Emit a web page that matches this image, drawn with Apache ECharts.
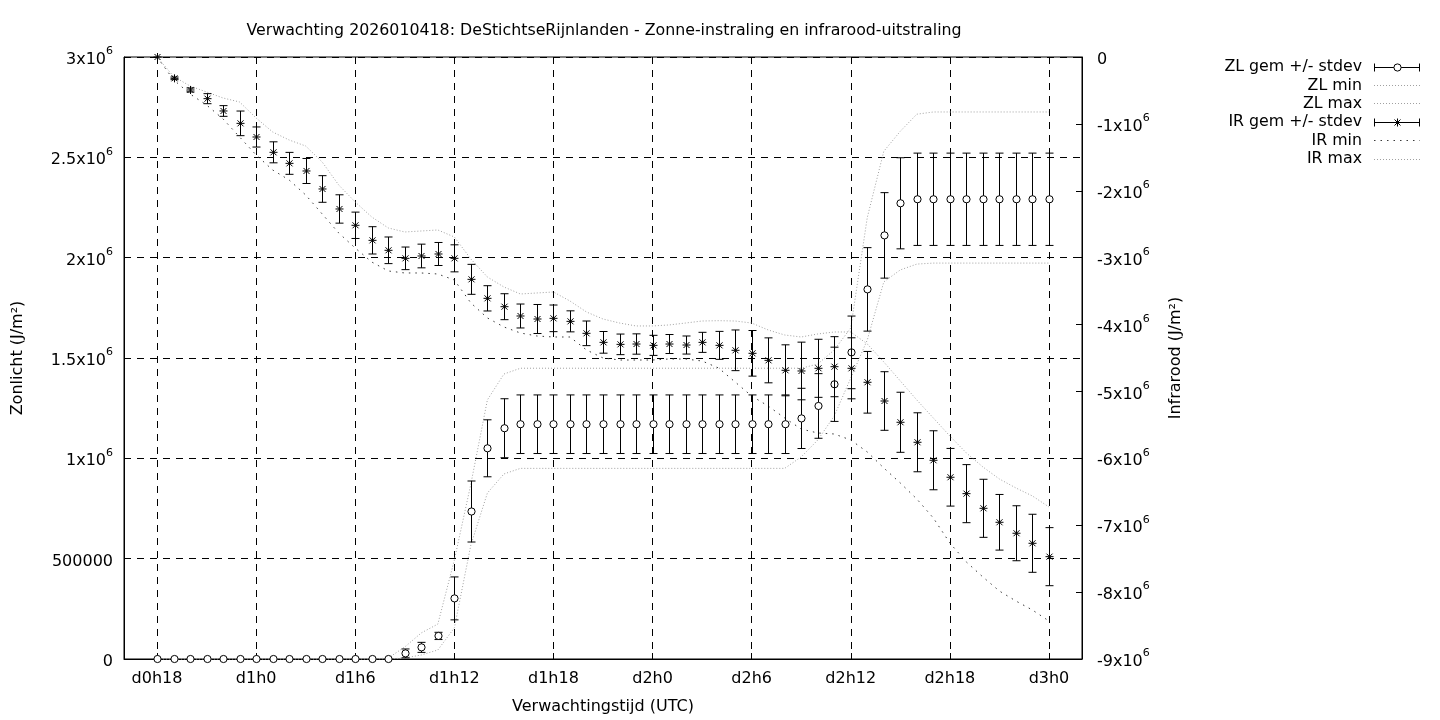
<!DOCTYPE html>
<html><head><meta charset="utf-8">
<script src="https://cdn.jsdelivr.net/npm/echarts@6/dist/echarts.min.js"></script>
<style>html,body{margin:0;padding:0;background:#fff}#c{width:1440px;height:720px}</style>
</head><body><div id="c"></div><script>
// forecast hour since d0h0
const hours = [18,19,20,21,22,23,24,25,26,27,28,29,30,31,32,33,34,35,36,37,38,39,40,41,42,43,44,45,46,47,48,49,50,51,52,53,54,55,56,57,58,59,60,61,62,63,64,65,66,67,68,69,70,71,72];
const xTicks = [18,24,30,36,42,48,54,60,66,72];

const zlMean = [0,0,0,0,0,0,0,0,0,0,0,0,0,0,0,
  28000,58000,115000,302000,735000,1050000,1150000,
  1170000,1170000,1170000,1170000,1170000,1170000,1170000,1170000,1170000,1170000,1170000,1170000,1170000,1170000,1170000,1170000,1170000,
  1199000,1261000,1369000,1528000,1842000,2111000,2271000,
  2291000,2291000,2291000,2291000,2291000,2291000,2291000,2291000,2291000];
const zlStd = [0,0,0,0,0,0,0,0,0,0,0,0,0,0,0,
  22000,25000,18000,107000,152000,142000,147000,
  146000,146000,146000,146000,146000,146000,146000,146000,146000,146000,146000,146000,146000,146000,146000,146000,146000,
  150000,161000,185000,181000,208000,213000,227000,
  230000,230000,230000,230000,230000,230000,230000,230000,230000];
const zlMin = [0,0,0,0,0,0,0,0,0,0,0,0,0,0,0,
  5000,20000,45000,155000,568000,827000,922000,
  950000,950000,950000,950000,950000,950000,950000,950000,950000,950000,950000,950000,950000,950000,950000,950000,950000,
  1007000,1091000,1211000,1400000,1590000,1879000,1939000,1968000,
  1973000,1973000,1973000,1973000,1973000,1973000,1973000,1973000];
const zlMax = [0,0,0,0,0,0,0,0,0,0,0,0,0,0,5000,
  60000,130000,174000,493000,872000,1291000,1420000,
  1449000,1449000,1449000,1449000,1449000,1449000,1449000,1449000,1449000,1449000,1449000,1449000,1449000,1449000,1449000,1449000,1449000,1449000,
  1470000,1540000,1650000,2200000,2530000,2630000,2715000,
  2726000,2726000,2726000,2726000,2726000,2726000,2726000,2726000];

const irMean = [0,-319000,-493000,-623000,-807000,-992000,-1196000,-1425000,-1590000,-1704000,
  -1973000,-2272000,-2516000,-2741000,-2890000,-3010000,-2975000,-2945000,-3010000,-3324000,
  -3608000,-3733000,-3872000,-3917000,-3907000,-3952000,-4131000,-4266000,-4296000,-4291000,
  -4311000,-4291000,-4306000,-4266000,-4311000,-4385000,-4430000,-4535000,-4684000,-4694000,
  -4654000,-4630000,-4654000,-4863000,-5143000,-5461000,-5760000,-6029000,-6283000,-6528000,
  -6747000,-6956000,-7120000,-7270000,-7470000];
const irStd = [0,20000,30000,75000,80000,184000,150000,157000,164000,187000,
  199000,212000,197000,204000,199000,169000,177000,172000,202000,224000,
  189000,194000,179000,217000,199000,157000,184000,162000,154000,152000,
  150000,142000,135000,150000,209000,304000,341000,336000,381000,431000,
  434000,449000,456000,461000,438000,449000,441000,441000,431000,434000,
  434000,416000,411000,434000,434000];
const irMax = [0,-290000,-434000,-523000,-613000,-673000,-912000,-1121000,-1241000,-1331000,
  -1570000,-1914000,-2168000,-2392000,-2556000,-2616000,-2601000,-2586000,-2691000,-3020000,
  -3289000,-3438000,-3543000,-3528000,-3513000,-3648000,-3812000,-3917000,-3977000,-4021000,
  -4021000,-4006000,-3977000,-3947000,-3942000,-3947000,-3977000,-4081000,-4156000,-4186000,
  -4141000,-4111000,-4111000,-4290000,-4559000,-4843000,-5128000,-5397000,-5666000,-5920000,
  -6129000,-6309000,-6443000,-6563000,-6727000];
const irMin = [0,-340000,-553000,-718000,-927000,-1196000,-1465000,-1689000,-1839000,-2063000,
  -2347000,-2631000,-2856000,-3065000,-3199000,-3229000,-3229000,-3244000,-3334000,-3677000,
  -3901000,-4036000,-4126000,-4171000,-4186000,-4186000,-4380000,-4500000,-4530000,-4530000,
  -4530000,-4515000,-4515000,-4545000,-4650000,-4859000,-5068000,-5218000,-5397000,-5562000,
  -5621000,-5636000,-5726000,-5905000,-6144000,-6369000,-6608000,-6892000,-7266000,-7550000,
  -7774000,-7984000,-8133000,-8268000,-8432000];

const legendNames = ['ZL gem +/- stdev','ZL min','ZL max','IR gem +/- stdev','IR min','IR max'];
const titleText = 'Verwachting 2026010418: DeStichtseRijnlanden - Zonne-instraling en infrarood-uitstraling';

const FONT = 'DejaVu Sans';
const FS = 16;
const GRAY = '#a0a0a0';
const DARK = '#3a3a3a';
const DOT_LIGHT = [1,2];
const DOT_DARK = [1.5,5];

function zip(a, b, c) { return hours.map((h, i) => c ? [h, a[i], b[i]] : [h, a[i]]); }

function marker(kind, cx, cy) {
  if (kind === 'circle') {
    return [{type:'circle', shape:{cx:cx, cy:cy, r:3.6}, style:{fill:'#fff', stroke:'#000', lineWidth:1}}];
  }
  const r = 4, d = 3;
  const st = {stroke:'#000', lineWidth:1};
  return [
    {type:'line', shape:{x1:cx-r,y1:cy,x2:cx+r,y2:cy}, style:st},
    {type:'line', shape:{x1:cx,y1:cy-r,x2:cx,y2:cy+r}, style:st},
    {type:'line', shape:{x1:cx-d,y1:cy-d,x2:cx+d,y2:cy+d}, style:st},
    {type:'line', shape:{x1:cx-d,y1:cy+d,x2:cx+d,y2:cy-d}, style:st}
  ];
}

function errRender(kind) {
  return function (params, api) {
    const x = api.value(0), m = api.value(1), s = api.value(2);
    const c = api.coord([x, m]);
    const t = api.coord([x, m + s]);
    const b = api.coord([x, m - s]);
    const px = Math.round(c[0]) + 0.5;
    const cw = 4;
    const st = {stroke:'#000', lineWidth:1};
    const ch = [];
    if (s > 0) {
      ch.push({type:'line', shape:{x1:px,y1:t[1],x2:px,y2:b[1]}, style:st});
      ch.push({type:'line', shape:{x1:px-cw,y1:t[1],x2:px+cw,y2:t[1]}, style:st});
      ch.push({type:'line', shape:{x1:px-cw,y1:b[1],x2:px+cw,y2:b[1]}, style:st});
    }
    return {type:'group', children: ch.concat(marker(kind, px, c[1]))};
  };
}

function sci(v) {
  if (v === 0) return '{n|0}';
  if (Math.abs(v) === 500000) return '{n|' + v + '}';
  return '{n|' + (v / 1e6) + 'x10}{s|6}';
}
const sciRich = {
  n:{fontSize:FS, fontFamily:FONT, color:'#000', lineHeight:22, verticalAlign:'bottom'},
  s:{fontSize:11, fontFamily:FONT, color:'#000', lineHeight:22, verticalAlign:'top'}
};

// legend (layout only)
const legX = 1362, legSymL = 1374, legSymR = 1420, legY0 = 66.5, legDy = 18.4;
const legendGraphics = [];
legendNames.forEach((n, i) => {
  const y = legY0 + i * legDy;
  legendGraphics.push({type:'text', x:legX, y:y + 0.5, style:{text:n, font:'15.8px "' + FONT + '"', fill:'#000', textAlign:'right', textVerticalAlign:'middle'}});
  if (i === 0 || i === 3) {
    const st = {stroke:'#000', lineWidth:1};
    const yy = Math.round(y) + 0.5;
    legendGraphics.push({type:'line', shape:{x1:legSymL,y1:yy,x2:legSymR,y2:yy}, style:st});
    legendGraphics.push({type:'line', shape:{x1:legSymL+0.5,y1:yy-4,x2:legSymL+0.5,y2:yy+4}, style:st});
    legendGraphics.push({type:'line', shape:{x1:legSymR-0.5,y1:yy-4,x2:legSymR-0.5,y2:yy+4}, style:st});
    marker(i === 0 ? 'circle' : 'star', (legSymL + legSymR) / 2 + 0.5, yy).forEach(g => legendGraphics.push(g));
  } else {
    const dark = (i === 4);
    legendGraphics.push({type:'line', shape:{x1:legSymL,y1:Math.round(y)+0.5,x2:legSymR,y2:Math.round(y)+0.5},
      style:{stroke: dark ? DARK : GRAY, lineWidth:1, lineDash: dark ? DOT_DARK : DOT_LIGHT}});
  }
});

const chart = echarts.init(document.getElementById('c'), null, {renderer:'canvas'});
const dotLine = (name, data, yi, dark) => ({
  name: name, type:'line', yAxisIndex: yi, data: data, symbol:'none', smooth:false, silent:true,
  lineStyle:{color: dark ? DARK : GRAY, width:1, type: dark ? DOT_DARK : DOT_LIGHT}, z:2
});

chart.setOption({
  animation:false,
  textStyle:{fontFamily: FONT},
  grid:{left:124, right:358, top:57, bottom:61, show:true, borderColor:'#000', borderWidth:1, backgroundColor:'transparent'},
  graphic:[
    {type:'text', x:604, y:30.5, style:{text:titleText, font:'15.8px "' + FONT + '"', fill:'#000', textAlign:'center', textVerticalAlign:'middle'}}
  ].concat(legendGraphics),
  xAxis:{
    type:'value', min:16, max:74,
    name:'Verwachtingstijd (UTC)', nameLocation:'middle', nameGap:40,
    nameTextStyle:{fontSize:FS, color:'#000', fontFamily:FONT},
    axisLine:{show:true, lineStyle:{color:'#000', width:1}},
    axisTick:{show:true, inside:true, length:6, customValues:xTicks, lineStyle:{color:'#000'}},
    axisLabel:{customValues:xTicks, fontSize:FS, color:'#000', margin:12, fontFamily:FONT,
      formatter:(v) => 'd' + Math.floor(v / 24) + 'h' + (v % 24)},
    splitLine:{show:true, lineStyle:{color:'#000', width:1, type:[7,6]}}
  },
  yAxis:[
    {type:'value', min:0, max:3000000, interval:500000, position:'left',
     name:'Zonlicht (J/m\u00b2)', nameLocation:'middle', nameGap:98, nameRotate:90,
     nameTextStyle:{fontSize:FS, color:'#000', fontFamily:FONT},
     axisLine:{show:true, lineStyle:{color:'#000'}},
     axisTick:{show:true, inside:true, length:6, lineStyle:{color:'#000'}},
     axisLabel:{color:'#000', margin:11, formatter:sci, rich:sciRich},
     splitLine:{show:true, lineStyle:{color:'#000', width:1, type:[7,6]}}},
    {type:'value', min:-9000000, max:0, interval:1000000, position:'right',
     name:'Infrarood (J/m\u00b2)', nameLocation:'middle', nameGap:86, nameRotate:90,
     nameTextStyle:{fontSize:FS, color:'#000', fontFamily:FONT},
     axisLine:{show:true, lineStyle:{color:'#000'}},
     axisTick:{show:true, inside:true, length:6, lineStyle:{color:'#000'}},
     axisLabel:{color:'#000', margin:15, formatter:sci, rich:sciRich},
     splitLine:{show:false}}
  ],
  series:[
    dotLine('ZL min', zip(zlMin), 0, false),
    dotLine('ZL max', zip(zlMax), 0, false),
    dotLine('IR min', zip(irMin), 1, true),
    dotLine('IR max', zip(irMax), 1, false),
    {name:'ZL gem +/- stdev', type:'custom', yAxisIndex:0, data:zip(zlMean, zlStd, true), renderItem:errRender('circle'), clip:false, z:5, silent:true},
    {name:'IR gem +/- stdev', type:'custom', yAxisIndex:1, data:zip(irMean, irStd, true), renderItem:errRender('star'), clip:false, z:5, silent:true}
  ]
});
</script></body></html>
